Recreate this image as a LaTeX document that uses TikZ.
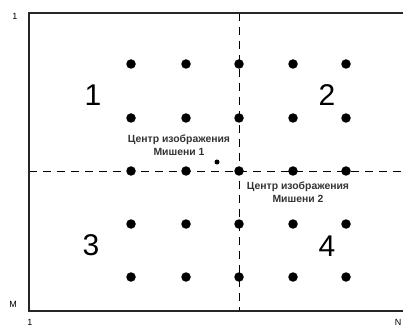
\documentclass[tikz,border=0pt]{standalone}
\usepackage{fontspec}
\setmainfont{Liberation Sans}
\begin{document}
\begin{tikzpicture}[x=1pt,y=-1pt,
  dot/.style={circle,fill=black,inner sep=0pt,minimum size=9.5pt},
  smalldot/.style={circle,fill=black,inner sep=0pt,minimum size=5pt},
  frameline/.style={line width=1.8pt,draw=black!85},
  guide/.style={line width=0.9pt,dash pattern=on 8pt off 6pt},
  bignum/.style={font=\fontsize{30}{30}\selectfont,inner sep=0pt},
  axislab/.style={font=\fontsize{9}{9}\selectfont,inner sep=0pt},
  caption/.style={font=\fontsize{10.4}{12.5}\selectfont\bfseries,text=black!80,align=center,inner sep=0pt}]
\useasboundingbox (0,0) rectangle (403,328);
\coordinate (tl) at (29,13);
\coordinate (bl) at (29,311);
\coordinate (tr) at (404,13);
\coordinate (br) at (404,311);
\coordinate (vt) at (239,13);
\coordinate (vb) at (239,311);
\coordinate (hl) at (29,171);
\coordinate (hr) at (404,171);
\draw[guide] (vt) -- (vb);
\draw[guide] (hl) -- (hr);
\draw[frameline] (tr) -- (tl) -- (bl) -- (br);
\foreach \i/\x in {1/131,2/186,3/239,4/293,5/346}{
  \foreach \j/\y in {1/64,2/118,3/171,4/224,5/277}{
    \node[dot] (d\i\j) at (\x,\y) {};
  }
}
\node[smalldot] (c1) at (217,162) {};
\node[bignum] (q1) at (93,95) {1};
\node[bignum] (q2) at (327,95) {2};
\node[bignum] (q3) at (91,245) {3};
\node[bignum] (q4) at (327,246) {4};
\node[caption] (t1) at (179,145) {Центр изображения\\Мишени 1};
\node[caption] (t2) at (298,192) {Центр изображения\\Мишени 2};
\node[axislab] (l1) at (15,16) {1};
\node[axislab] (lm) at (13,304) {M};
\node[axislab] (lb) at (30,322) {1};
\node[axislab] (ln) at (398,322) {N};
\end{tikzpicture}
\end{document}
